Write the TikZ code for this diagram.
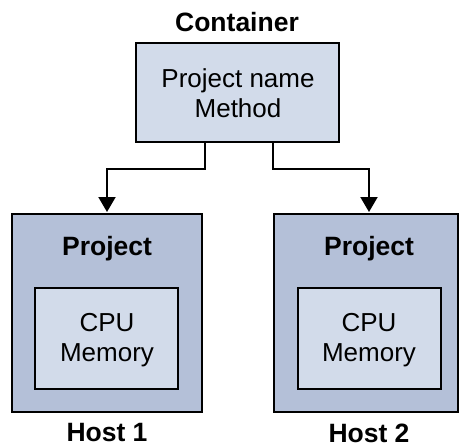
\documentclass[tikz,border=0pt]{standalone}
\usepackage{fontspec}
\setmainfont{Liberation Sans}
\usetikzlibrary{arrows.meta}
\definecolor{outerfill}{HTML}{B4C0D8}
\definecolor{innerfill}{HTML}{D2DBEA}
\tikzset{
  box/.style={draw=black, line width=2pt, inner sep=0pt},
  txt/.style={font=\fontsize{26}{30}\selectfont, align=center, inner sep=0pt},
  head/.style={font=\fontsize{26.5}{31}\selectfont\bfseries, inner sep=0pt},
  link/.style={line width=2pt, -{Triangle[length=15pt,width=17pt]}}
}
\begin{document}
\begin{tikzpicture}[x=1pt,y=-1pt]
\useasboundingbox (0,0) rectangle (460,447);
% container box
\node[head] (ctitle) at (237,22) {Container};
\draw[box, fill=innerfill] (136,43) rectangle (339,142);
\node[txt] (ctext) at (238,93) {Project name\\Method};
\coordinate (c1) at (205,142);
\coordinate (c2) at (273,142);
% host 1
\draw[box, fill=outerfill] (12,214) rectangle (202,412);
\draw[box, fill=innerfill] (35,288) rectangle (178,389);
\node[head] (p1) at (107,249) {Project};
\node[txt] (m1) at (107,340) {CPU\\Memory};
\node[head] (h1) at (107,433) {Host 1};
\coordinate (t1) at (107,212);
% host 2
\draw[box, fill=outerfill] (274,214) rectangle (458,412);
\draw[box, fill=innerfill] (298,288) rectangle (441,389);
\node[head] (p2) at (369,249) {Project};
\node[txt] (m2) at (369,340) {CPU\\Memory};
\node[head] (h2) at (369,433) {Host 2};
\coordinate (t2) at (369,212);
% connectors
\draw[link] (c1) |- (107,169) -- (t1);
\draw[link] (c2) |- (369,169) -- (t2);
\end{tikzpicture}
\end{document}
